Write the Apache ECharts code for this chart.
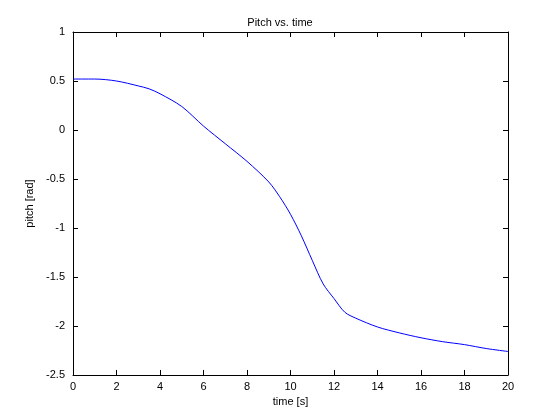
<!DOCTYPE html>
<html><head><meta charset="utf-8">
<script src="https://cdn.jsdelivr.net/npm/echarts@6/dist/echarts.min.js"></script>
<style>html,body{margin:0;background:#fff}#c{width:560px;height:420px}</style>
</head><body><div id="c"></div>
<script>
// pitch trace
var time = [0, 1, 2, 3, 3.5, 4, 5, 6, 7, 8, 9, 9.5, 10, 10.5, 11, 11.5, 12, 12.5, 13, 14, 15, 16, 17, 18, 19, 20];
var pitch = [0.52, 0.52, 0.50, 0.45, 0.42, 0.37, 0.24, 0.04, -0.14, -0.32, -0.53, -0.68, -0.86, -1.08, -1.33, -1.57, -1.72, -1.86, -1.92, -2.01, -2.07, -2.12, -2.16, -2.19, -2.23, -2.26];

var chart = echarts.init(document.getElementById('c'));
var font = {fontFamily: 'Liberation Sans, Arial', fontSize: 11, color: '#000'};
var line = {onZero: false, lineStyle: {color: '#000', width: 1}};
var tick = {inside: true, length: 5, lineStyle: {color: '#000'}};
function xAx(pos, main) {
    return {
        type: 'value', min: 0, max: 20, interval: 2, position: pos,
        name: main ? 'time [s]' : '', nameLocation: 'middle', nameGap: 21, nameTextStyle: font,
        axisLine: line, axisTick: tick,
        axisLabel: Object.assign({show: main, margin: 6}, font),
        splitLine: {show: false}
    };
}
function yAx(pos, main) {
    return {
        type: 'value', min: -2.5, max: 1, interval: 0.5, position: pos,
        name: main ? 'pitch [rad]' : '', nameLocation: 'middle', nameGap: 33, nameTextStyle: font,
        axisLine: line, axisTick: tick,
        axisLabel: Object.assign({show: main, margin: 8}, font),
        splitLine: {show: false}
    };
}
chart.setOption({
    animation: false,
    backgroundColor: '#fff',
    title: {text: 'Pitch vs. time', left: 'center', top: 12,
        textStyle: {fontFamily: 'Liberation Sans, Arial', fontSize: 11, fontWeight: 'normal', color: '#000'}},
    grid: {left: 73, right: 52, top: 32, bottom: 45},
    xAxis: [xAx('bottom', true), xAx('top', false)],
    yAxis: [yAx('left', true), yAx('right', false)],
    series: [{
        type: 'line', smooth: 0.3, symbol: 'none',
        lineStyle: {color: '#0000ff', width: 1},
        data: time.map(function (t, i) { return [t, pitch[i]]; })
    }]
});
</script></body></html>
